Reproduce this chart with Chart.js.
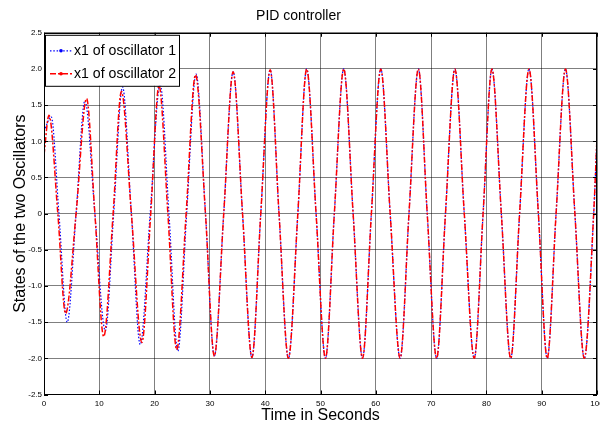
<!DOCTYPE html>
<html>
<head>
<meta charset="utf-8">
<script src="https://cdn.jsdelivr.net/npm/chart.js@4.4.1/dist/chart.umd.min.js"></script>
<style>
  body { margin: 0; background: #fff; }
  canvas { display: block; }
</style>
</head>
<body>
<canvas id="pidChart" width="600" height="425"></canvas>
<script>
// Data: extrema and zero crossings of each state
var timeOsc1 = [0, 1.3, 2.7, 4.2, 5.8, 7.4, 9.2, 11.1, 12.6, 14.2, 15.8, 17.4, 19.2, 21.0, 22.6, 24.2, 25.8, 27.5,
  29.2, 30.8, 32.5, 34.2, 35.9, 37.6, 39.2, 40.9, 42.5, 44.2, 45.9, 47.5, 49.2, 50.9, 52.5, 54.2, 55.9, 57.6,
  59.2, 60.9, 62.6, 64.4, 66.0, 67.7, 69.3, 71.0, 72.6, 74.3, 76.0, 77.8, 79.4, 81.0, 82.7, 84.4, 86.0, 87.7,
  89.4, 91.0, 92.6, 94.3, 96.0, 97.7, 99.4, 100];
var x1Osc1 = [1.14, 1.34, 0, -1.50, 0, 1.56, 0, -1.62, 0, 1.75, 0, -1.81, 0, 1.79, 0, -1.90, 0, 1.93,
  0, -1.97, 0, 1.96, 0, -1.99, 0, 1.99, 0, -2.0, 0, 2.0, 0, -2.0, 0, 2.0, 0, -2.0,
  0, 2.0, 0, -2.0, 0, 2.0, 0, -2.0, 0, 2.0, 0, -2.0, 0, 2.0, 0, -2.0, 0, 2.0,
  0, -2.0, 0, 2.0, 0, -2.0, 0, 1.05];

var timeOsc2 = [0, 0.9, 2.5, 3.9, 5.8, 7.7, 9.2, 10.8, 12.5, 14.0, 15.8, 17.7, 19.3, 20.8, 22.4, 24.0, 25.7, 27.4,
  29.2, 30.8, 32.5, 34.2, 35.9, 37.6, 39.2, 40.9, 42.5, 44.2, 45.9, 47.5, 49.2, 50.9, 52.5, 54.2, 55.9, 57.6,
  59.2, 60.9, 62.6, 64.4, 66.0, 67.7, 69.3, 71.0, 72.6, 74.3, 76.0, 77.8, 79.4, 81.0, 82.7, 84.4, 86.0, 87.7,
  89.4, 91.0, 92.6, 94.3, 96.0, 97.7, 99.4, 100];
var x1Osc2 = [0.81, 1.36, 0, -1.38, 0, 1.59, 0, -1.70, 0, 1.69, 0, -1.78, 0, 1.77, 0, -1.88, 0, 1.92,
  0, -1.97, 0, 1.96, 0, -1.99, 0, 1.99, 0, -2.0, 0, 2.0, 0, -2.0, 0, 2.0, 0, -2.0,
  0, 2.0, 0, -2.0, 0, 2.0, 0, -2.0, 0, 2.0, 0, -2.0, 0, 2.0, 0, -2.0, 0, 2.0,
  0, -2.0, 0, 2.0, 0, -2.0, 0, 1.05];

var xTicks = [0, 10, 20, 30, 40, 50, 60, 70, 80, 90, 100];
var yTicks = [-2.5, -2, -1.5, -1, -0.5, 0, 0.5, 1, 1.5, 2, 2.5];
var seriesNames = ['x1 of oscillator 1', 'x1 of oscillator 2'];

function toPoints(ts, vs) {
  return ts.map(function (t, i) { return { x: t, y: vs[i] }; });
}

var tickFont = { family: "'Liberation Sans Narrow', 'Liberation Sans', Arial, sans-serif", size: 8 };
var textFamily = "'Liberation Sans', Arial, sans-serif";

// Box, inward ticks and the legend, drawn MATLAB style
var framePlugin = {
  id: 'frame',
  afterDraw: function (chart) {
    var ctx = chart.ctx, a = chart.chartArea, sx = chart.scales.x, sy = chart.scales.y;
    ctx.save();
    ctx.strokeStyle = '#000';
    ctx.lineWidth = 1;
    ctx.strokeRect(Math.round(a.left) + 0.5, Math.round(a.top) + 0.5, Math.round(a.width) - 1, Math.round(a.height) - 1);
    ctx.beginPath();
    xTicks.forEach(function (v) {
      var px = Math.round(sx.getPixelForValue(v)) + 0.5;
      ctx.moveTo(px, a.bottom); ctx.lineTo(px, a.bottom - 4);
      ctx.moveTo(px, a.top); ctx.lineTo(px, a.top + 4);
    });
    yTicks.forEach(function (v) {
      var py = Math.round(sy.getPixelForValue(v)) + 0.5;
      ctx.moveTo(a.left, py); ctx.lineTo(a.left + 4, py);
      ctx.moveTo(a.right, py); ctx.lineTo(a.right - 4, py);
    });
    ctx.stroke();

    // legend
    var lx = a.left + 1, ly = a.top + 2, lw = 134, lh = 51;
    ctx.fillStyle = '#fff';
    ctx.fillRect(lx, ly, lw, lh);
    ctx.strokeRect(lx + 0.5, ly + 0.5, lw, lh);
    chart.data.datasets.forEach(function (ds, i) {
      var yy = ly + 16 + i * 23;
      ctx.strokeStyle = ds.borderColor;
      ctx.lineWidth = ds.borderWidth;
      ctx.setLineDash(ds.borderDash);
      ctx.beginPath();
      ctx.moveTo(lx + 5, yy); ctx.lineTo(lx + 27, yy);
      ctx.stroke();
      ctx.setLineDash([]);
      ctx.fillStyle = ds.borderColor;
      ctx.beginPath();
      ctx.arc(lx + 16, yy, 1.8, 0, Math.PI * 2);
      ctx.fill();
      ctx.fillStyle = '#000';
      ctx.font = '15px ' + textFamily;
      ctx.textBaseline = 'middle';
      ctx.textAlign = 'left';
      ctx.fillText(ds.label, lx + 29, yy, 102);
    });
    ctx.restore();
  }
};

var ctx = document.getElementById('pidChart').getContext('2d');

var pidChart = new Chart(ctx, {
  type: 'line',
  data: {
    datasets: [
      {
        label: seriesNames[0],
        data: toPoints(timeOsc1, x1Osc1),
        borderColor: '#0000ff',
        borderWidth: 1.2,
        borderDash: [1.5, 1.8],
        pointRadius: 0,
        cubicInterpolationMode: 'monotone',
        order: 1
      },
      {
        label: seriesNames[1],
        data: toPoints(timeOsc2, x1Osc2),
        borderColor: '#ff0000',
        borderWidth: 1.5,
        borderDash: [6, 2, 2, 2],
        pointRadius: 0,
        cubicInterpolationMode: 'monotone',
        order: 0
      }
    ]
  },
  options: {
    responsive: false,
    animation: false,
    layout: { autoPadding: false, padding: { left: 0, right: 3, top: 0, bottom: 0 } },
    plugins: {
      legend: { display: false },
      tooltip: { enabled: false },
      title: {
        display: true,
        text: 'PID controller',
        color: '#000',
        font: { family: textFamily, size: 14, weight: 'normal' },
        padding: { top: 8, bottom: 8 }
      }
    },
    scales: {
      x: {
        type: 'linear',
        min: 0,
        max: 100,
        afterBuildTicks: function (scale) { scale.ticks = xTicks.map(function (v) { return { value: v }; }); },
        afterFit: function (scale) { scale.height = 30.5; scale.paddingLeft = 0; scale.paddingRight = 0; },
        ticks: { font: tickFont, color: '#000', padding: 4, maxRotation: 0 },
        grid: { color: 'rgba(0,0,0,0.5)', drawTicks: false },
        border: { display: false },
        title: {
          display: true,
          text: 'Time in Seconds',
          color: '#000',
          font: { family: textFamily, size: 16 },
          padding: { top: 0, bottom: 0 }
        }
      },
      y: {
        min: -2.5,
        max: 2.5,
        afterBuildTicks: function (scale) { scale.ticks = yTicks.map(function (v) { return { value: v }; }); },
        afterFit: function (scale) { scale.width = 44; scale.paddingTop = 0; scale.paddingBottom = 0; },
        ticks: { font: tickFont, color: '#000', padding: 2 },
        grid: { color: 'rgba(0,0,0,0.5)', drawTicks: false },
        border: { display: false },
        title: {
          display: true,
          text: 'States of the two Oscillators',
          color: '#000',
          font: { family: textFamily, size: 16 },
          padding: { top: 11, bottom: 0 }
        }
      }
    }
  },
  plugins: [framePlugin]
});
</script>
</body>
</html>
